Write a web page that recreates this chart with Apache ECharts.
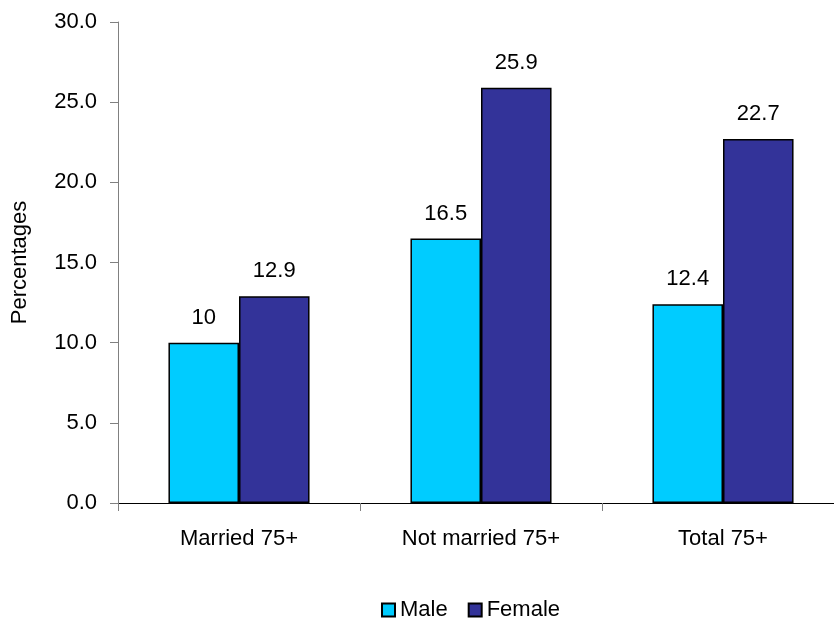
<!DOCTYPE html>
<html><head><meta charset="utf-8">
<script src="https://cdn.jsdelivr.net/npm/echarts@6/dist/echarts.min.js"></script>
<style>html,body{margin:0;padding:0;background:#fff;overflow:hidden}#c{width:850px;height:619px}</style>
</head><body><div id="c"></div>
<script>
const categories = ["Married 75+", "Not married 75+", "Total 75+"];
const maleValues = [10, 16.5, 12.4];
const femaleValues = [12.9, 25.9, 22.7];
const seriesNames = ["Male", "Female"];

const chart = echarts.init(document.getElementById('c'));
const font = 'Liberation Sans, Arial, sans-serif';
const fs = 22;
const lbl = {show: true, position: 'top', distance: 14, color: '#000', fontSize: fs, fontFamily: font};
chart.setOption({
  animation: false,
  textStyle: {fontFamily: font},
  grid: {left: 118, top: 22, right: 6, bottom: 116},
  legend: {
    data: seriesNames, top: 594, left: 376, itemWidth: 13, itemHeight: 13, itemGap: 20,
    icon: 'rect',
    textStyle: {color: '#000', fontSize: fs, fontFamily: font}
  },
  xAxis: {
    type: 'category', data: categories,
    axisLine: {lineStyle: {color: '#000', width: 1}},
    axisTick: {show: true, length: 8, lineStyle: {color: '#808080'}},
    axisLabel: {color: '#000', fontSize: fs, margin: 25, fontFamily: font}
  },
  yAxis: {
    type: 'value', min: 0, max: 30, interval: 5,
    name: 'Percentages', nameLocation: 'middle', nameGap: 87, nameRotate: 90,
    nameTextStyle: {color: '#000', fontSize: fs, fontFamily: font},
    axisLine: {show: true, lineStyle: {color: '#808080'}},
    axisTick: {show: true, length: 8, lineStyle: {color: '#808080'}},
    splitLine: {show: false},
    axisLabel: {color: '#000', fontSize: fs, margin: 21, fontFamily: font, formatter: v => v.toFixed(1)}
  },
  series: [
    {name: seriesNames[0], type: 'bar', data: maleValues, barGap: '0%', barCategoryGap: '41.7%',
     itemStyle: {color: '#00CCFF', borderColor: '#000', borderWidth: 1.5}, label: lbl},
    {name: seriesNames[1], type: 'bar', data: femaleValues,
     itemStyle: {color: '#333399', borderColor: '#000', borderWidth: 1.5}, label: lbl}
  ]
});
</script></body></html>
